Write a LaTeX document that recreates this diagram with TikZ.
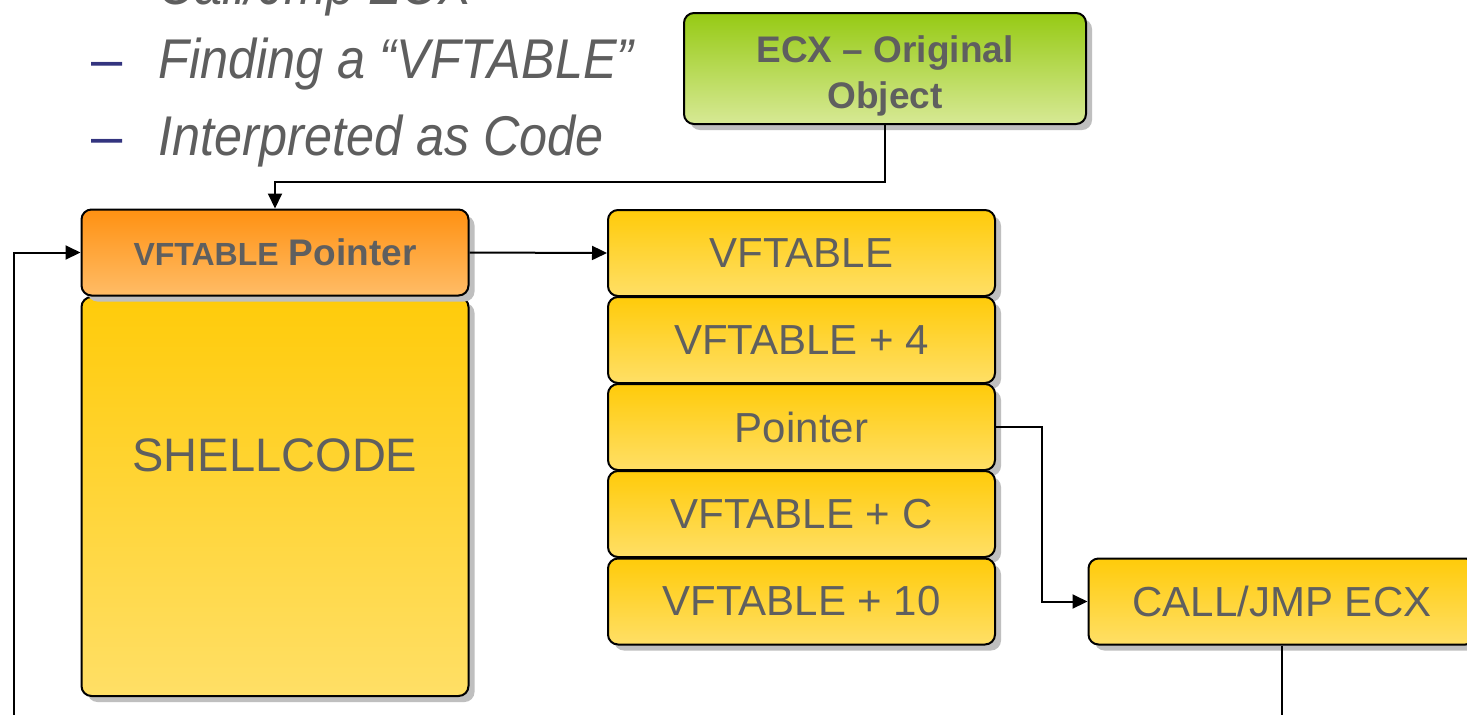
\documentclass[tikz,border=0pt]{standalone}
\usepackage{fontspec}
\setmainfont{Liberation Sans}
\usetikzlibrary{arrows.meta,shadows}

\definecolor{boxtext}{HTML}{5F5F5F}
\definecolor{yelltop}{HTML}{FFCB0A}
\definecolor{yellbot}{HTML}{FFDF66}
\definecolor{orngtop}{HTML}{FF9112}
\definecolor{orngbot}{HTML}{FFBC66}
\definecolor{greentop}{HTML}{96CA14}
\definecolor{greenbot}{HTML}{D7E995}
\definecolor{bulletblue}{HTML}{33347F}
\definecolor{slidetext}{HTML}{5E5E5E}

\tikzset{
	cell/.style={draw=black, line width=1pt, rounded corners=5pt, inner sep=0pt,
		minimum width=193.5pt, minimum height=43pt, text=boxtext,
		top color=yelltop, bottom color=yellbot,
		drop shadow={shadow xshift=3pt, shadow yshift=-3pt, fill=black!25, opacity=1},
		font=\fontsize{21}{25}\selectfont},
	link/.style={line width=1pt, -{Triangle[length=7.5pt,width=7pt]}},
	bullet/.style={anchor=base west, inner sep=0pt, text=bulletblue, font=\fontsize{28}{30}\selectfont},
	point/.style={anchor=base west, inner sep=0pt, text=slidetext, font=\fontsize{28}{30}\selectfont\itshape},
}

\begin{document}
\begin{tikzpicture}[x=0.5pt,y=-0.5pt]
	\useasboundingbox (0,0) rectangle (1467,714);
	\clip (0,0) rectangle (1467,714);
	\fill[white] (0,0) rectangle (1467,714);

	% slide text
	\node[point] (call) at (158,4) {\scalebox{0.9}[1]{Call/Jmp ECX}};
	\node[bullet] (dash1) at (91,78) {–};
	\node[point] (find) at (158,78) {\scalebox{0.9}[1]{Finding a “VFTABLE”}};
	\node[bullet] (dash2) at (91,155) {–};
	\node[point] (interp) at (158,155) {\scalebox{0.9}[1]{Interpreted as Code}};

	% object and shellcode
	\node[cell, minimum width=201pt, minimum height=55.5pt, top color=greentop, bottom color=greenbot] (ecx) at (885,68.5) {};
	\node[text=boxtext, align=center, font=\fontsize{18.5}{23}\selectfont\bfseries] (ecxtxt) at (885,76) {ECX – Original\\Object};
	\node[cell, minimum height=199.5pt] (shell) at (275,496.5) {};
	\node[text=boxtext, font=\fontsize{23.5}{26}\selectfont] (shelltxt) at (275,455) {SHELLCODE};
	\node[cell, top color=orngtop, bottom color=orngbot, font=\fontsize{18.5}{22}\selectfont\bfseries] (vptr) at (275,252.5)
		{{\fontsize{16}{18}\selectfont VFTABLE} Pointer};

	% the vftable
	\node[cell] (vft0) at (801.5,253) {VFTABLE};
	\node[cell] (vft4) at (801.5,340) {VFTABLE + 4};
	\node[cell] (vft8) at (801.5,427) {Pointer};
	\node[cell] (vftc) at (801.5,514) {VFTABLE + C};
	\node[cell] (vft10) at (801.5,601.5) {VFTABLE + 10};
	\node[cell] (jmp) at (1282,601.5) {CALL/JMP ECX};

	\coordinate (loop) at (14,780);

	% connectors
	\draw[link] (ecx.south) -- ++(0,57) -| (vptr.north);
	\draw[link] (vptr.east) -- (vft0.west);
	\draw[link] (vft8.east) -- ++(46,0) |- (jmp.west);
	\draw[link] (jmp.south) |- (loop) |- (vptr.west);
\end{tikzpicture}
\end{document}
